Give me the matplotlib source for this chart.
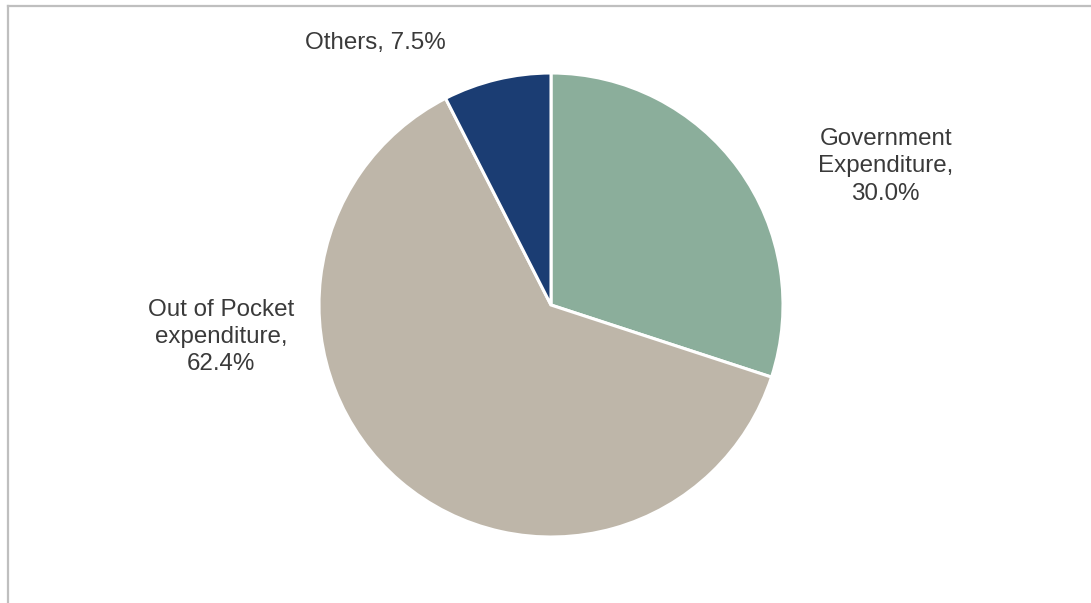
import matplotlib
matplotlib.use("Agg")
import matplotlib.pyplot as plt
from matplotlib.lines import Line2D

categories = ["Government\nExpenditure,", "Out of Pocket\nexpenditure,", "Others,"]
values = [30.0, 62.4, 7.5]
colors = ["#8BAE9B", "#BEB6A9", "#1B3D73"]

W, H = 1091, 603
fig = plt.figure(figsize=(W / 100, H / 100), dpi=100)
fig.patch.set_facecolor("white")

cx, cy, r = 551, 305, 232
ax = fig.add_axes([(cx - r) / W, (H - cy - r) / H, 2 * r / W, 2 * r / H])
ax.pie(values, colors=colors, startangle=90, counterclock=False, radius=1,
       wedgeprops=dict(edgecolor="white", linewidth=2.2))
ax.set_xlim(-1, 1)
ax.set_ylim(-1, 1)
ax.set_aspect("equal")
ax.axis("off")
ax.set_clip_on(False)

font = dict(family=["Liberation Sans", "DejaVu Sans"], fontsize=17.4, color="#3A3A3A",
            ha="center", va="center", linespacing=1.3)
label_pos = [(1.443, 0.597), (-1.422, -0.139), (-0.757, 1.13)]
for i, (cat, v) in enumerate(zip(categories, values)):
    sep = " " if i == 2 else "\n"
    ax.text(label_pos[i][0], label_pos[i][1], f"{cat}{sep}{v:.1f}%", clip_on=False, **font)

# frame lines (top and left)
fig.add_artist(Line2D([7.5 / W, 1], [1 - 5.5 / H, 1 - 5.5 / H], transform=fig.transFigure,
                      color="#BFBFBF", linewidth=1.6))
fig.add_artist(Line2D([7.5 / W, 7.5 / W], [0, 1 - 5.5 / H], transform=fig.transFigure,
                      color="#BFBFBF", linewidth=1.6))

fig.savefig("out.png", dpi=100, facecolor="white")
